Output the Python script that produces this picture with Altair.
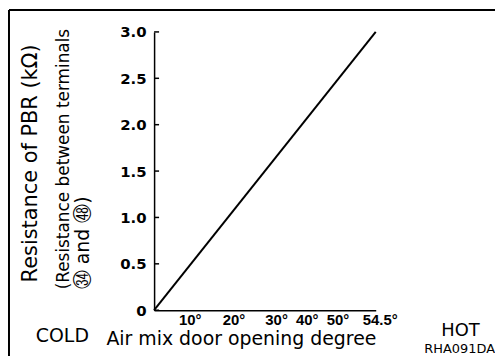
import altair as alt
import pandas as pd

# Data
degrees = [0, 54.5]
resistance = [0.0, 3.0]
y_tick_values = [0, 0.5, 1.0, 1.5, 2.0, 2.5, 3.0]
x_tick_values = [10, 20, 30, 40, 50, 54.5]

title_1 = "Resistance of PBR (kΩ)"
title_2 = "(Resistance between terminals"
title_3 = "㉞ and ㊽)"
x_title = "Air mix door opening degree"
left_note = "COLD"
right_note = "HOT"
code_note = "RHA091DA"

FONT = "DejaVu Sans"
NUMFONT = "Liberation Sans"

df = pd.DataFrame({"deg": degrees, "r": resistance})
yt = pd.DataFrame({"v": y_tick_values})
one = pd.DataFrame({"a": [0]})

xscale = alt.Scale(domain=[0, 54.5], nice=False, zero=False)
yscale = alt.Scale(domain=[0, 3.0], nice=False)

x_label_offset = {
    "condition": [
        {"test": "datum.value == 10", "value": -5},
        {"test": "datum.value == 20", "value": -2},
        {"test": "datum.value == 40", "value": -10},
        {"test": "datum.value == 50", "value": -20},
        {"test": "datum.value == 54.5", "value": 4},
    ],
    "value": 0,
}

line = alt.Chart(df).mark_line(color="black", strokeWidth=2).encode(
    x=alt.X("deg:Q", scale=xscale, axis=alt.Axis(
        values=x_tick_values, labelExpr="datum.value + '°'", title=None,
        labelFont=NUMFONT, labelFontWeight="bold", labelFontSize=15, labelColor="black",
        ticks=False, grid=False, labelPadding=2, labelFlush=False, labelOverlap=False,
        labelOffset=x_label_offset,
        domainColor="black", domainWidth=1.5)),
    y=alt.Y("r:Q", scale=yscale, axis=alt.Axis(
        values=y_tick_values,
        labelExpr="datum.value == 0 ? '0' : format(datum.value, '.1f')", title=None,
        labelFont=FONT, labelFontWeight="bold", labelFontSize=15, labelColor="black",
        ticks=False, grid=False, labelPadding=8, labelOverlap=False,
        domainColor="black", domainWidth=1.5)),
)

yticks = alt.Chart(yt).mark_rule(color="black", strokeWidth=1.5).encode(
    y=alt.Y("v:Q", scale=yscale), x=alt.value(0), x2=alt.value(5)
)


def txt(text, x, y, size, angle=0, align="left", baseline="alphabetic", weight="normal"):
    return alt.Chart(one).mark_text(
        text=text, font=FONT, fontSize=size, angle=angle, align=align,
        baseline=baseline, fontWeight=weight, color="black"
    ).encode(x=alt.value(x), y=alt.value(y))


labels = [
    txt(title_1, -124, 252, 21, angle=270, baseline="middle"),
    txt(title_2, -91, 259, 17, angle=270, baseline="middle"),
    txt(title_3, -71, 259, 19, angle=270, baseline="middle"),
    txt(left_note, -119, 312, 19),
    txt(right_note, 289, 306, 18),
    txt(x_title, -48, 315, 19),
    txt(code_note, 343, 323, 13, align="right"),
]

frame_top = alt.Chart(one).mark_rule(color="black", strokeWidth=2).encode(
    x=alt.value(-146), x2=alt.value(345), y=alt.value(-22)
)
frame_left = alt.Chart(one).mark_rule(color="black", strokeWidth=2).encode(
    x=alt.value(-146), y=alt.value(-22), y2=alt.value(330)
)

chart = alt.layer(line, yticks, *labels, frame_top, frame_left).properties(
    width=223, height=280,
    padding={"left": 147, "top": 23, "right": 120, "bottom": 45},
    autosize=alt.AutoSizeParams(type="none"),
).configure_view(stroke=None)

chart.save("out.html", embed_options={"renderer": "svg", "actions": False})
